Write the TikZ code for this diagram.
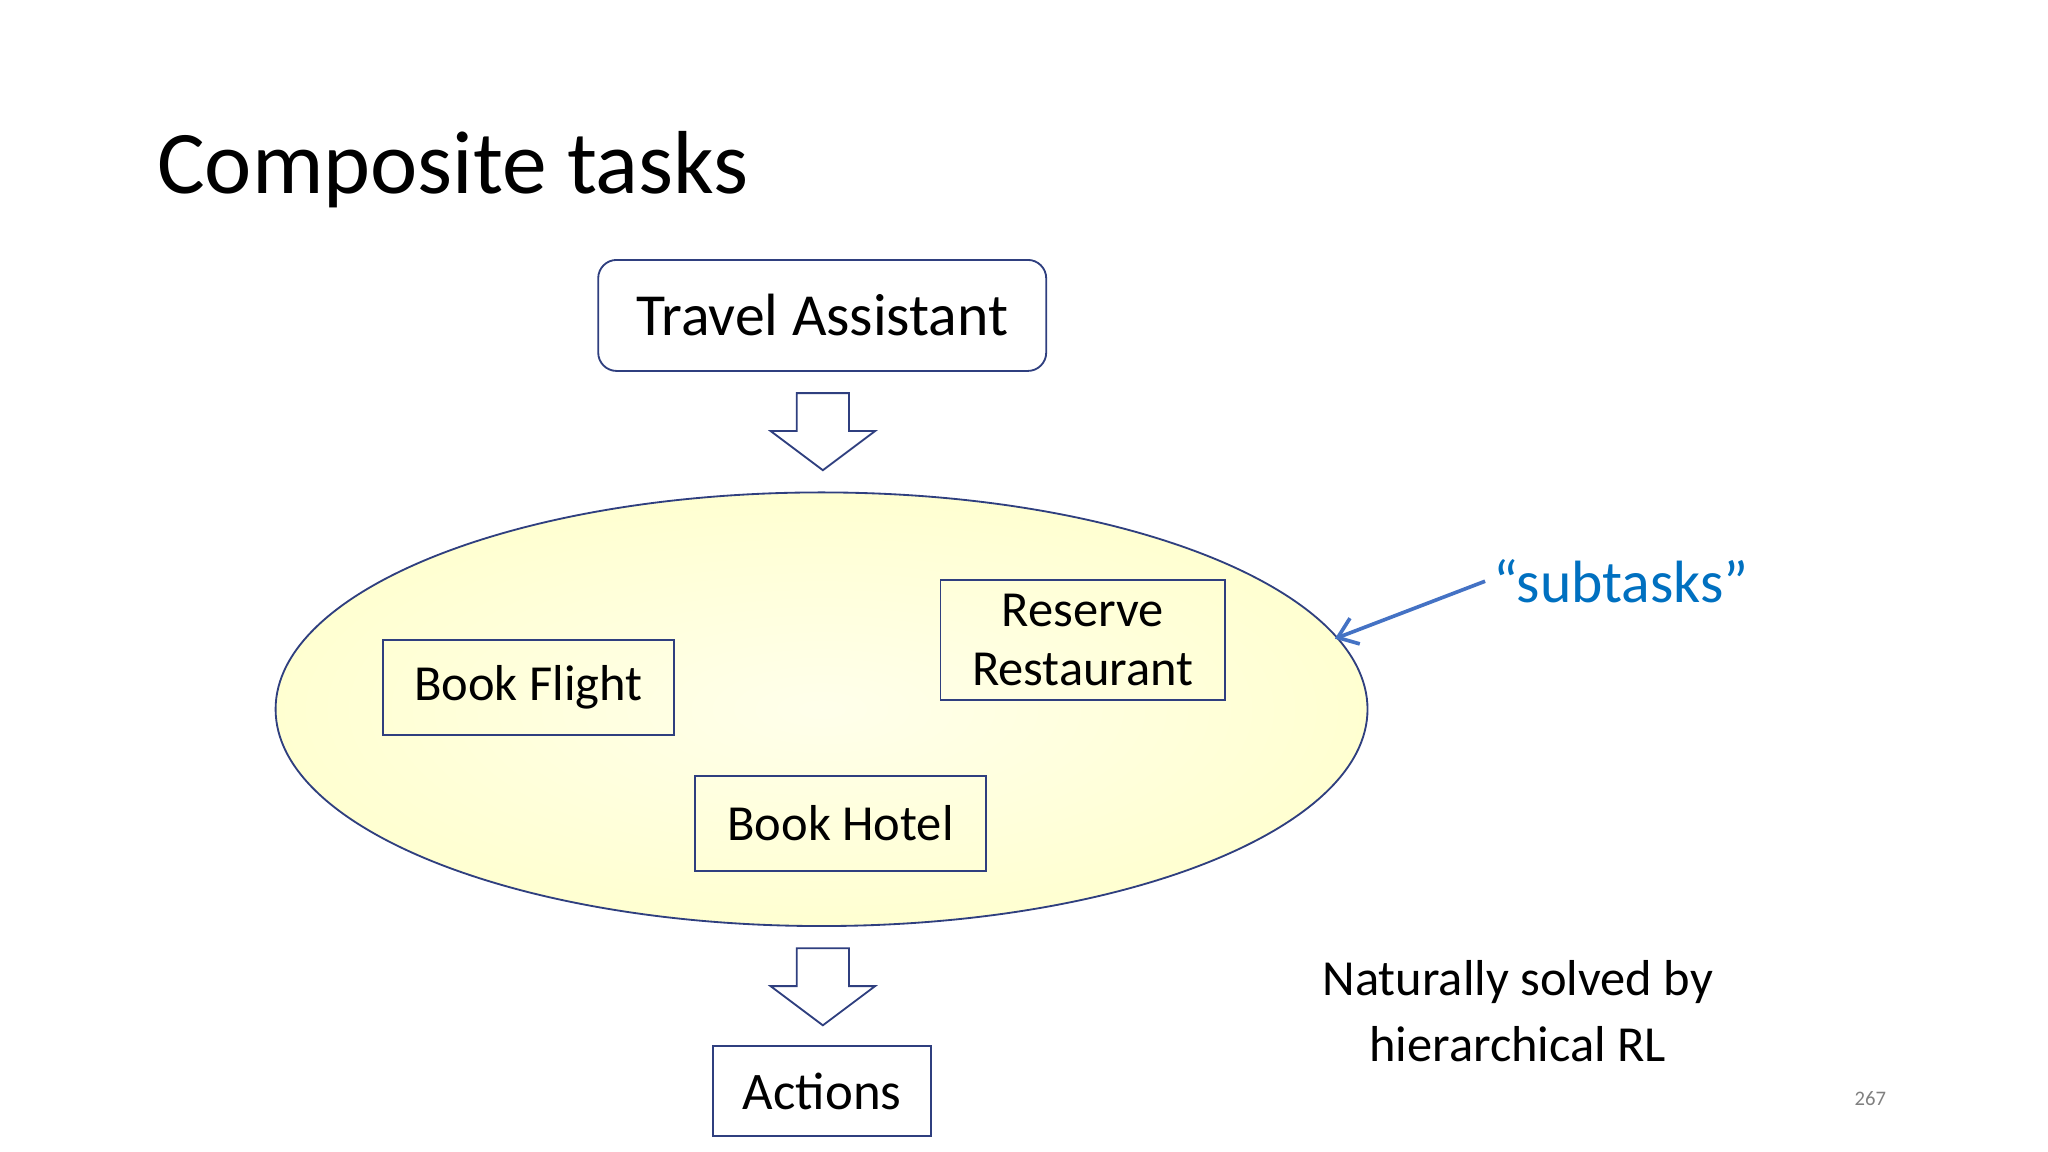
\documentclass[tikz,border=0pt]{standalone}
\usepackage{fontspec}
\setmainfont{Carlito}
\usetikzlibrary{arrows.meta}
\definecolor{edge}{HTML}{2F3F7F}
\definecolor{sub}{HTML}{0070C0}
\definecolor{subarr}{HTML}{4472C4}
\tikzset{
  task/.style={draw=edge, thick, inner sep=0pt, font=\fontsize{22}{26}\selectfont, align=center},
  blockarrow/.style={draw=edge, fill=white, thick}
}
\begin{document}
\begin{tikzpicture}[x=0.02cm, y=-0.02cm]
    \useasboundingbox (0,0) rectangle (1568,882);
    \node[anchor=west, inner sep=0pt, font=\fontsize{39}{44}\selectfont] (title) at (120,130) {Composite tasks};

    \node[task, rounded corners=8pt, minimum width=343*0.02cm, minimum height=85*0.02cm, font=\fontsize{26}{30}\selectfont] (ta) at (629.5,241.5) {Travel Assistant};

    \draw[blockarrow] (610,301) -- (650,301) -- (650,330) -- (670,330) -- (630,360) -- (590,330) -- (610,330) -- cycle;

    \shade[inner color=yellow!8, outer color=yellow!18, draw=edge, thick] (629,543) ellipse (418 and 166);
    \coordinate (rim) at (1022,489);

    \node[task, minimum width=223*0.02cm, minimum height=73*0.02cm] (bf) at (404.5,526.5) {Book Flight};
    \node[task, minimum width=218*0.02cm, minimum height=92*0.02cm] (rr) at (829,490) {Reserve\\Restaurant};
    \node[task, minimum width=223*0.02cm, minimum height=73*0.02cm] (bh) at (643.5,630.5) {Book Hotel};

    \draw[blockarrow] (610,726) -- (650,726) -- (650,755) -- (670,755) -- (630,785) -- (590,755) -- (610,755) -- cycle;

    \node[task, minimum width=167*0.02cm, minimum height=69*0.02cm, font=\fontsize{23}{27}\selectfont] (act) at (629.5,835.5) {Actions};

    \node[text=sub, font=\fontsize{26}{30}\selectfont] (st) at (1241,445) {“subtasks”};
    \draw[subarr, line width=1.6pt, -{Straight Barb[length=8pt,width=12pt]}] (st.west) -- (rim);

    \node[align=center, font=\fontsize{22}{29}\selectfont] (nat) at (1162,774) {Naturally solved by\\hierarchical RL};
    \node[text=gray, font=\fontsize{9}{11}\selectfont] (pg) at (1432,841) {267};
\end{tikzpicture}
\end{document}
